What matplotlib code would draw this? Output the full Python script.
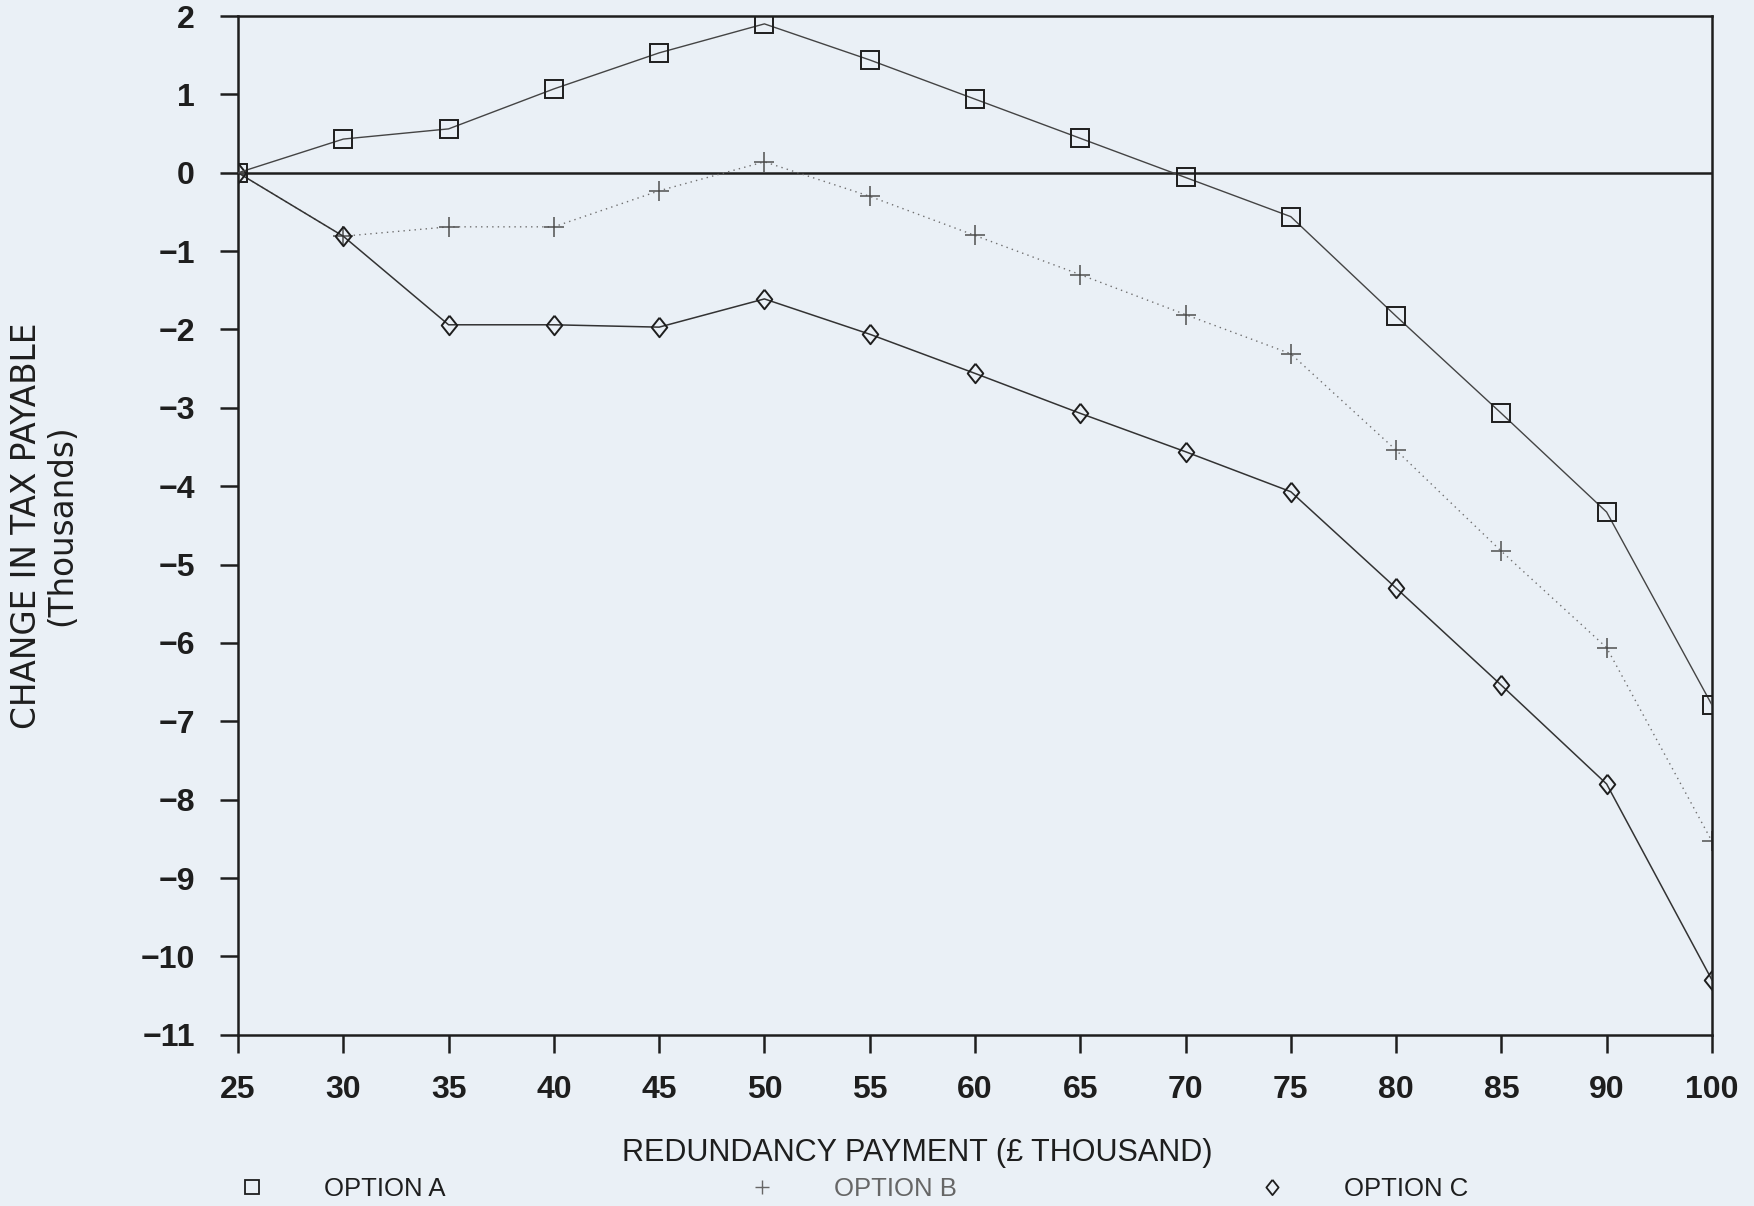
import numpy as np
import matplotlib
matplotlib.use("Agg")
import matplotlib.pyplot as plt
from matplotlib.lines import Line2D

plt.rcParams['font.family'] = ['Liberation Sans', 'DejaVu Sans']

# redundancy payment (£ thousand), plotted as evenly spaced categories
payments = ["25", "30", "35", "40", "45", "50", "55", "60", "65", "70",
            "75", "80", "85", "90", "100"]

# change in tax payable (thousands)
option_a = [0.0, 0.43, 0.56, 1.07, 1.53, 1.9, 1.44, 0.94, 0.44, -0.06,
            -0.56, -1.83, -3.07, -4.33, -6.79]
option_b = [0.0, -0.81, -0.69, -0.69, -0.23, 0.14, -0.3, -0.8, -1.3, -1.81,
            -2.31, -3.54, -4.83, -6.06, -8.53]
option_c = [0.0, -0.81, -1.94, -1.94, -1.97, -1.61, -2.06, -2.56, -3.07, -3.56,
            -4.07, -5.3, -6.54, -7.8, -10.3]

y_ticks = list(range(-11, 3))

paper = '#eaf0f6'
ink = '#1e1e1e'
# slightly narrow diamond like the plotter's symbol
diamond = [(0, 1), (0.8, 0), (0, -1), (-0.8, 0), (0, 1)]

fig = plt.figure(figsize=(17.54, 12.06), dpi=100, facecolor=paper)
ax = fig.add_axes([0.1357, 0.142, 0.976 - 0.1357, 0.9867 - 0.142])
ax.set_facecolor(paper)

x = np.arange(len(payments))

ax.axhline(0, color=ink, lw=1.8, zorder=1)

ax.plot(x, option_b, linestyle=(0, (1, 3)), color='#707070', lw=1.0,
        marker='+', markersize=14, markeredgewidth=1.1, markeredgecolor='#505050',
        zorder=2)
ax.plot(x, option_c, linestyle='-', color='#333333', lw=1.1,
        marker=diamond, markersize=14, markerfacecolor='none', markeredgewidth=1.4,
        markeredgecolor=ink, zorder=3)
ax.plot(x, option_a, linestyle='-', color='#444444', lw=1.0,
        marker='s', markersize=13, markerfacecolor='none', markeredgewidth=1.4,
        markeredgecolor=ink, zorder=4)

ax.set_xlim(0, len(payments) - 1)
ax.set_ylim(-11, 2)
ax.set_xticks(x)
ax.set_xticklabels(payments)
ax.set_yticks(y_ticks)
ax.set_yticklabels([str(v).replace('-', '\u2212') for v in y_ticks])

for side in ['left', 'right', 'top', 'bottom']:
    ax.spines[side].set_color(ink)
    ax.spines[side].set_linewidth(1.8)

ax.tick_params(axis='both', direction='out', length=13, width=1.8, color=ink,
               labelsize=23, labelcolor=ink)
ax.tick_params(axis='x', pad=16)
ax.tick_params(axis='y', pad=18)
for lab in ax.get_xticklabels() + ax.get_yticklabels():
    lab.set_fontweight('bold')

ax.set_ylabel('CHANGE IN TAX PAYABLE\n(Thousands)', fontsize=23.5, color=ink,
              family=['DejaVu Sans'], linespacing=1.1)
ax.yaxis.set_label_coords(-0.1085, 0.5)
ax.set_xlabel('REDUNDANCY PAYMENT (\u00a3 THOUSAND)', fontsize=22, color=ink)
ax.xaxis.set_label_coords(0.461, -0.101)

# legend row under the axis title, symbols only
handles = [
    Line2D([], [], linestyle='none', marker='s', markersize=9.5,
           markerfacecolor='none', markeredgecolor=ink, markeredgewidth=1.3),
    Line2D([], [], linestyle='none', marker='+', markersize=10,
           markeredgecolor='#666666', markeredgewidth=1.0),
    Line2D([], [], linestyle='none', marker=diamond, markersize=11,
           markerfacecolor='none', markeredgecolor=ink, markeredgewidth=1.3),
]
labels = ['OPTION A', 'OPTION B', 'OPTION C']
leg = fig.legend(handles, labels, loc='center left', bbox_to_anchor=(0.1364, 0.0141),
                 ncol=3, frameon=False, fontsize=18.5, handlelength=1.0,
                 handletextpad=2.3, columnspacing=11.8, borderpad=0,
                 borderaxespad=0)
for t, c in zip(leg.get_texts(), [ink, '#666666', ink]):
    t.set_color(c)

fig.savefig('out.png', dpi=100, facecolor=paper)
